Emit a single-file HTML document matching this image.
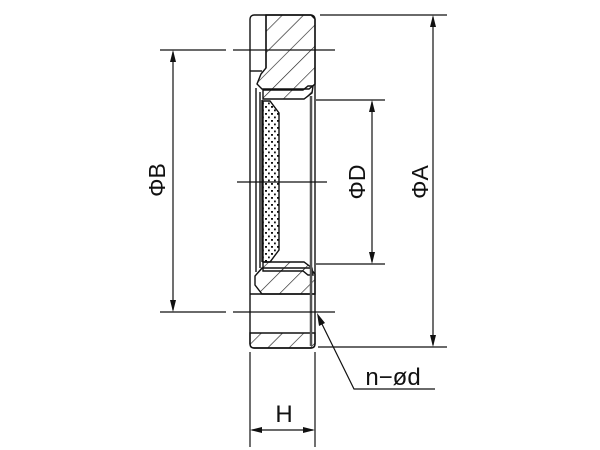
<!DOCTYPE html>
<html><head><meta charset="utf-8"><style>
html,body{margin:0;padding:0;background:#fff;width:600px;height:450px;overflow:hidden}
svg{display:block}
text{font-family:"Liberation Sans",sans-serif;fill:#111}
</style></head><body>
<svg width="600" height="450" viewBox="0 0 600 450" xmlns="http://www.w3.org/2000/svg">
<defs>
<pattern id="h" patternUnits="userSpaceOnUse" width="15" height="15" patternTransform="rotate(45)">
<line x1="0" y1="0" x2="0" y2="15" stroke="#222" stroke-width="1.3"/>
</pattern>
<pattern id="d" patternUnits="userSpaceOnUse" width="6" height="7">
<rect x="1" y="1" width="2" height="1.8" fill="#111"/>
<rect x="4" y="4.5" width="1.8" height="1.8" fill="#111"/>
</pattern>
</defs>
<g stroke="#111" stroke-width="1.4" fill="none">
<rect x="250" y="15" width="65" height="333" rx="4"/>
<polygon points="266,15 311,15 315,19 315,84 309,89 262,89 257,84 261,74 266,68" fill="url(#h)"/>
<line x1="266" y1="15" x2="266" y2="68"/>
<line x1="250" y1="71" x2="262" y2="71"/>
<polygon points="262,268 310,268 315,274 315,294 262,294 255,285 255,276" fill="url(#h)"/>
<line x1="250" y1="294" x2="315" y2="294"/>
<path d="M250,333 H315 V344 Q315,348 311,348 H254 Q250,348 250,344 Z" fill="url(#h)"/>
<line x1="256" y1="88" x2="256" y2="272"/>
<line x1="260" y1="92" x2="260" y2="268"/>
<polygon points="263,90 303,90 308,86 313,86 312,93 304,99 263,99" fill="url(#h)"/>
<polygon points="263,262 304,262 312,268 313,275 308,275 303,271 263,271" fill="url(#h)"/>
<polygon points="263,101 270,101 279,113 279,250 270,262 263,262" fill="url(#d)"/>
<line x1="262" y1="100" x2="262" y2="262"/>
</g>
<line x1="311" y1="96" x2="311" y2="346" stroke="#555" stroke-width="2.5"/>
<g stroke="#111" stroke-width="1.2" fill="none">
<line x1="320" y1="15" x2="447" y2="15"/>
<line x1="318" y1="347" x2="447" y2="347"/>
<line x1="160" y1="50" x2="226" y2="50"/>
<line x1="233" y1="50" x2="335" y2="50"/>
<line x1="160" y1="312" x2="226" y2="312"/>
<line x1="233" y1="312" x2="335" y2="312"/>
<line x1="316" y1="100" x2="385" y2="100"/>
<line x1="316" y1="264" x2="385" y2="264"/>
<line x1="237" y1="182" x2="327" y2="182"/>
<line x1="433" y1="17" x2="433" y2="345"/>
<line x1="173" y1="52" x2="173" y2="310"/>
<line x1="372" y1="102" x2="372" y2="262"/>
<line x1="250" y1="352" x2="250" y2="447"/>
<line x1="315" y1="352" x2="315" y2="447"/>
<line x1="252" y1="430" x2="313" y2="430"/>
<polyline points="319,318 354,389 435,389"/>
</g>
<g fill="#111">
<polygon points="433,15 430,27 436,27"/>
<polygon points="433,347 430,335 436,335"/>
<polygon points="173,50 170,62 176,62"/>
<polygon points="173,312 170,300 176,300"/>
<polygon points="372,100 369,112 375,112"/>
<polygon points="372,264 369,252 375,252"/>
<polygon points="250,430 262,427 262,433"/>
<polygon points="315,430 303,427 303,433"/>
<polygon points="317,313 319,326 325,323"/>
</g>
<text x="0" y="0" font-size="23" text-anchor="middle" transform="translate(165,180) rotate(-90)">ΦB</text>
<text x="0" y="0" font-size="23" text-anchor="middle" transform="translate(365,182) rotate(-90)">ΦD</text>
<text x="0" y="0" font-size="23" text-anchor="middle" transform="translate(428,182) rotate(-90)">ΦA</text>
<text x="284" y="422" font-size="24" text-anchor="middle">H</text>
<text x="393" y="385" font-size="24" text-anchor="middle">n−ød</text>
</svg>
</body></html>
